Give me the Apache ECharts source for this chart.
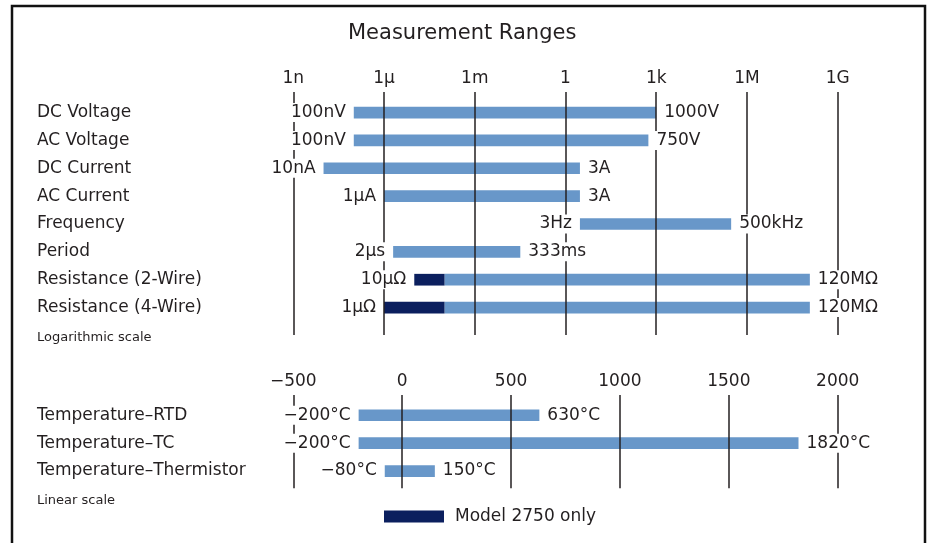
<!DOCTYPE html>
<html><head><meta charset="utf-8">
<script src="https://cdn.jsdelivr.net/npm/echarts@6/dist/echarts.min.js"></script>
<style>html,body{margin:0;padding:0;background:#fff}#c{width:929px;height:543px}</style>
</head><body><div id="c"></div><script>
// ---- data (log-scale section) ----
const logCategories = ['DC Voltage','AC Voltage','DC Current','AC Current','Frequency','Period','Resistance (2-Wire)','Resistance (4-Wire)'];
const logStart = [1e-7, 1e-7, 1e-8, 1e-6, 3, 2e-6, 1e-5, 1e-6];
const logEnd = [1e3, 550, 3, 3, 3e5, 0.032, 1.2e8, 1.2e8];
const model2750End = [null, null, null, null, null, null, 1e-4, 1e-4];
const logStartLabels = ['100nV','100nV','10nA','1µA','3Hz','2µs','10µΩ','1µΩ'];
const logEndLabels = ['1000V','750V','3A','3A','500kHz','333ms','120MΩ','120MΩ'];
const logTickLabels = ['1n','1µ','1m','1','1k','1M','1G'];
// ---- data (linear-scale section) ----
const linCategories = ['Temperature–RTD','Temperature–TC','Temperature–Thermistor'];
const linStart = [-200, -200, -80];
const linEnd = [630, 1820, 150];
const linStartLabels = ['−200°C','−200°C','−80°C'];
const linEndLabels = ['630°C','1820°C','150°C'];
const linTickLabels = ['−500','0','500','1000','1500','2000'];

const FONT = 'DejaVu Sans';
const TXT = '#231f20';
const LIGHT = '#6897c9';
const DARK = '#0b1f5e';
const GL = 293.3, GW = 544.4, BAR_H = 11.7;

const lightLog = logCategories.map((c, i) => [Math.log10(model2750End[i] != null ? model2750End[i] : logStart[i]), Math.log10(logEnd[i]), i]);
const darkLog = [];
logCategories.forEach((c, i) => { if (model2750End[i] != null) darkLog.push([Math.log10(logStart[i]), Math.log10(model2750End[i]), i]); });
const labelLog = logCategories.map((c, i) => [Math.log10(logStart[i]), Math.log10(logEnd[i]), i]);
const lin = linCategories.map((c, i) => [linStart[i], linEnd[i], i]);

function barRender(color) {
  return function (params, api) {
    const s = api.coord([api.value(0), api.value(2)]);
    const e = api.coord([api.value(1), api.value(2)]);
    return { type: 'rect', shape: { x: s[0], y: s[1] - BAR_H / 2, width: e[0] - s[0], height: BAR_H }, style: { fill: color } };
  };
}
function labelRender(startLabels, endLabels) {
  return function (params, api) {
    const i = params.dataIndex;
    const s = api.coord([api.value(0), api.value(2)]);
    const e = api.coord([api.value(1), api.value(2)]);
    const base = { fill: TXT, font: '17px "' + FONT + '"', backgroundColor: '#fff', padding: [1, 3], verticalAlign: 'middle' };
    return { type: 'group', children: [
      { type: 'text', x: s[0] - 5, y: s[1], style: Object.assign({ text: startLabels[i], align: 'right' }, base) },
      { type: 'text', x: e[0] + 5, y: e[1], style: Object.assign({ text: endLabels[i], align: 'left' }, base) }
    ] };
  };
}

const axisText = { color: TXT, fontFamily: FONT, fontSize: 17 };
const lineAxisCommon = {
  type: 'value', position: 'top', z: 3,
  axisLine: { show: false }, axisTick: { show: false },
  splitLine: { show: true, lineStyle: { color: TXT, width: 1.5 } }
};
const catAxisCommon = {
  type: 'category', inverse: true,
  axisLine: { show: false }, axisTick: { show: false },
  axisLabel: Object.assign({ align: 'left', margin: GL - 37 }, axisText)
};

const chart = echarts.init(document.getElementById('c'));
chart.setOption({
  animation: false,
  title: [
    { text: 'Measurement Ranges', left: 343, top: 18, textStyle: { color: TXT, fontFamily: FONT, fontSize: 21, fontWeight: 'normal' } },
    { text: 'Logarithmic scale', left: 32, top: 326, textStyle: { color: TXT, fontFamily: FONT, fontSize: 13, fontWeight: 'normal' } },
    { text: 'Linear scale', left: 32, top: 489, textStyle: { color: TXT, fontFamily: FONT, fontSize: 13, fontWeight: 'normal' } }
  ],
  legend: {
    data: ['Model 2750 only'], left: 384, top: 508, padding: 0, icon: 'rect', itemWidth: 60, itemHeight: 12,
    selectedMode: false, textStyle: Object.assign({ padding: [0, 0, 0, 6] }, axisText)
  },
  graphic: [{ type: 'rect', shape: { x: 12, y: 6, width: 913, height: 545 }, style: { fill: 'none', stroke: '#111', lineWidth: 2.5 }, silent: true }],
  grid: [
    { left: GL, width: GW, top: 98.6, height: 222.9 },
    { left: GL, width: GW, top: 92, height: 243 },
    { left: GL, width: GW, top: 401.3, height: 83.7 },
    { left: GL, width: GW, top: 395, height: 93.3 }
  ],
  xAxis: [
    { gridIndex: 0, type: 'value', min: -9, max: 9, show: false },
    Object.assign({ gridIndex: 1, min: -9, max: 9, interval: 3,
      axisLabel: Object.assign({ margin: 5, formatter: v => logTickLabels[Math.round((v + 9) / 3)] }, axisText) }, lineAxisCommon),
    { gridIndex: 2, type: 'value', min: -500, max: 2000, show: false },
    Object.assign({ gridIndex: 3, min: -500, max: 2000, interval: 500,
      axisLabel: Object.assign({ margin: 5, formatter: v => linTickLabels[Math.round((v + 500) / 500)] }, axisText) }, lineAxisCommon)
  ],
  yAxis: [
    Object.assign({ gridIndex: 0, data: logCategories }, catAxisCommon),
    { gridIndex: 1, type: 'value', show: false },
    Object.assign({ gridIndex: 2, data: linCategories }, catAxisCommon),
    { gridIndex: 3, type: 'value', show: false }
  ],
  series: [
    { type: 'custom', name: 'Range', xAxisIndex: 0, yAxisIndex: 0, z: 2, silent: true, encode: { x: [0, 1], y: 2 }, data: lightLog, renderItem: barRender(LIGHT), itemStyle: { color: LIGHT } },
    { type: 'custom', name: 'Model 2750 only', xAxisIndex: 0, yAxisIndex: 0, z: 2, silent: true, encode: { x: [0, 1], y: 2 }, data: darkLog, renderItem: barRender(DARK), itemStyle: { color: DARK } },
    { type: 'custom', name: 'logLabels', xAxisIndex: 0, yAxisIndex: 0, z: 5, silent: true, encode: { x: [0, 1], y: 2 }, data: labelLog, renderItem: labelRender(logStartLabels, logEndLabels) },
    { type: 'custom', name: 'Temp', xAxisIndex: 2, yAxisIndex: 2, z: 2, silent: true, encode: { x: [0, 1], y: 2 }, data: lin, renderItem: barRender(LIGHT), itemStyle: { color: LIGHT } },
    { type: 'custom', name: 'linLabels', xAxisIndex: 2, yAxisIndex: 2, z: 5, silent: true, encode: { x: [0, 1], y: 2 }, data: lin, renderItem: labelRender(linStartLabels, linEndLabels) }
  ]
});
</script></body></html>
